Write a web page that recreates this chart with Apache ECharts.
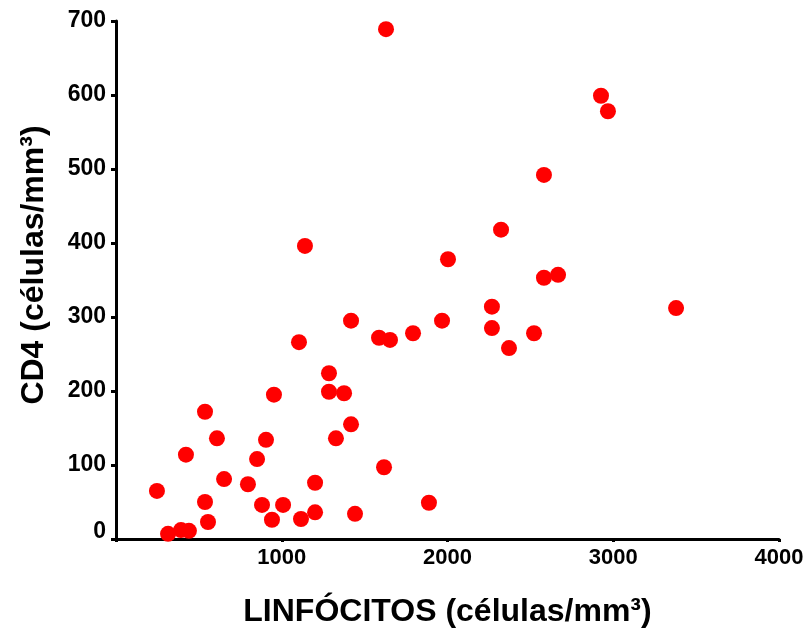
<!DOCTYPE html>
<html>
<head>
<meta charset="utf-8">
<script src="https://cdn.jsdelivr.net/npm/echarts@6/dist/echarts.min.js"></script>
<style>html,body{margin:0;padding:0;background:#fff;}#c{width:812px;height:629px;}</style>
</head>
<body>
<div id="c"></div>
<script>
const xTitle = 'LINFÓCITOS (células/mm³)';
const yTitle = 'CD4 (células/mm³)';
const linfocitos = [247,314,392,422,440,537,537,555,609,652,796,851,881,905,941,953,1008,1104,1116,1140,1201,1201,1285,1285,1327,1376,1418,1418,1442,1587,1617,1629,1653,1792,1888,1967,2003,2268,2268,2323,2371,2522,2582,2582,2667,2926,2968,3379];
const cd4 = [65,7,12,114,11,172,50,23,136,81,74,108,46,134,26,195,46,266,27,396,76,36,224,199,136,197,295,155,34,272,97,689,269,278,49,295,378,314,285,418,258,278,492,353,357,599,578,312];
const xTicks = [0,1000,2000,3000,4000];
const yTicks = [0,100,200,300,400,500,600,700];

const pts = linfocitos.map((x,i)=>[x,cd4[i]]);
const font = 'Liberation Sans, Arial, Helvetica, sans-serif';
const chart = echarts.init(document.getElementById('c'));
chart.setOption({
  animation:false,
  backgroundColor:'#ffffff',
  grid:{left:116,right:33,top:21,bottom:90,containLabel:false,outerBoundsMode:'none'},
  xAxis:{
    type:'value', min:xTicks[0], max:xTicks[xTicks.length-1], interval:1000,
    name:xTitle, nameLocation:'middle', nameGap:57,
    nameTextStyle:{fontFamily:font,fontWeight:'bold',fontSize:32,color:'#000'},
    axisLine:{show:true,onZero:false,lineStyle:{color:'#000',width:3}},
    axisTick:{show:true,length:3,lineStyle:{color:'#000',width:3}},
    axisLabel:{fontFamily:font,fontWeight:'bold',fontSize:22,color:'#000',margin:8,
      formatter:v=>v===0?'':String(v)},
    splitLine:{show:false}
  },
  yAxis:{
    type:'value', min:yTicks[0], max:yTicks[yTicks.length-1], interval:100,
    name:yTitle, nameLocation:'middle', nameGap:66, nameRotate:90,
    nameTextStyle:{fontFamily:font,fontWeight:'bold',fontSize:32,color:'#000',padding:[0,0,0,30]},
    axisLine:{show:true,onZero:false,lineStyle:{color:'#000',width:3}},
    axisTick:{show:true,length:5,lineStyle:{color:'#000',width:3}},
    axisLabel:{fontFamily:font,fontWeight:'bold',fontSize:23,color:'#000',margin:10,
      formatter:v=>v===0?'{z|0}':String(v),
      rich:{z:{fontFamily:font,fontWeight:'bold',fontSize:23,color:'#000',padding:[0,0,14,0]}}},
    splitLine:{show:false}
  },
  series:[{
    type:'scatter', data:pts, symbol:'circle', symbolSize:16,
    itemStyle:{color:'#ff0000',opacity:1},
    clip:false
  }]
});
</script>
</body>
</html>
